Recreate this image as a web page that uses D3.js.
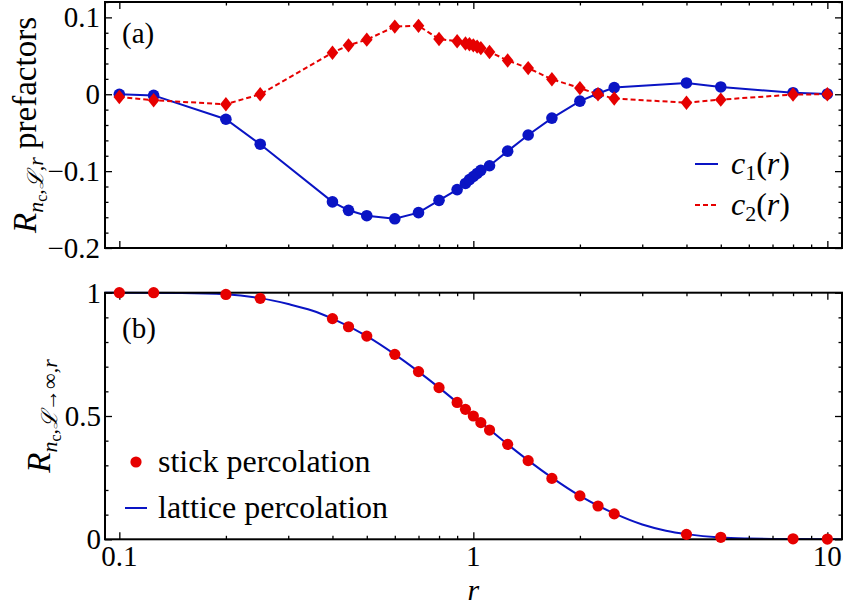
<!DOCTYPE html>
<html><head><meta charset="utf-8">
<script src="https://cdn.jsdelivr.net/npm/d3@7"></script>
<style>
html,body{margin:0;padding:0;background:#fff;}
svg{display:block;}
</style></head>
<body>
<svg id="chart" width="845" height="608"></svg>
<script>
// ---- data ----
const rTop = [0.1,0.125,0.2,0.25,0.4,0.444,0.5,0.6,0.7,0.8,0.9,0.95,0.975,1,1.025,1.05,1.111,1.25,1.4286,1.667,2,2.25,2.5,4,5,8,10];
const c1 = [0.000,-0.0015,-0.0325,-0.065,-0.140,-0.151,-0.158,-0.162,-0.154,-0.138,-0.124,-0.116,-0.111,-0.107,-0.103,-0.099,-0.093,-0.074,-0.053,-0.031,-0.009,0.001,0.0087,0.0147,0.0095,0.002,0.0004];
const c2 = [-0.0035,-0.0078,-0.013,0.000,0.054,0.0636,0.071,0.088,0.089,0.0718,0.069,0.066,0.065,0.0636,0.062,0.060,0.055,0.044,0.034,0.0195,0.008,0.000,-0.0056,-0.011,-0.007,-0.0004,0.000];
const rBot = [0.1,0.125,0.2,0.25,0.4,0.444,0.5,0.6,0.7,0.8,0.9,0.95,1,1.05,1.111,1.25,1.4286,1.667,2,2.25,2.5,4,5,8,10];
const stick = [1,1,0.993,0.977,0.895,0.862,0.824,0.75,0.68,0.615,0.555,0.527,0.5,0.473,0.443,0.385,0.319,0.247,0.176,0.135,0.103,0.020,0.008,0.002,0.001];
const latticeR = [0.0911,0.1,0.15,0.2,0.25,0.3,0.35,0.4,0.5,0.6,0.7,0.8,0.9,1,1.111,1.25,1.4286,1.667,2,2.5,3,3.5,4,5,6,7,8,10,11];
const lattice = [1,1,0.999,0.994,0.978,0.954,0.928,0.895,0.824,0.75,0.68,0.615,0.555,0.5,0.445,0.385,0.32,0.25,0.176,0.105,0.06,0.035,0.021,0.007,0.003,0.0015,0.001,0.0005,0.0003];
const xMajor = [0.1,1,10];
const xMajorLabels = ["0.1","1","10"];
const xMinor = [0.2,0.3,0.4,0.5,0.6,0.7,0.8,0.9,2,3,4,5,6,7,8,9];
const yTopMajor = [-0.2,-0.1,0,0.1];
const yTopLabels = ["\u22120.2","\u22120.1","0","0.1"];
const yTopMinor = [-0.18,-0.16,-0.14,-0.12,-0.08,-0.06,-0.04,-0.02,0.02,0.04,0.06,0.08,0.12];
const yBotMajor = [0,0.5,1];
const yBotLabels = ["0","0.5","1"];
const yBotMinor = [0.1,0.2,0.3,0.4,0.6,0.7,0.8,0.9];

const SERIF = '"Liberation Serif", "Times New Roman"';
const BLUE = "#0a14c4", RED = "#e60000";
const svg = d3.select("#chart").style("font-family", SERIF);
const L = 105, R = 842;
const x = d3.scaleLog().domain([0.0911, 11.0]).range([L, R]);
const yT = d3.scaleLinear().domain([-0.2, 0.12]).range([248, 2]);
const yB = d3.scaleLinear().domain([0, 1]).range([539.3, 292.7]);

function txt(xx, yy, size) {
  return svg.append("text").attr("x", xx).attr("y", yy).attr("font-size", size)
    .style("font-family", SERIF).attr("fill", "#000");
}

function ticks(y, yMaj, yMin) {
  const [b, t] = y.range();
  const g = svg.append("g");
  [[d3.axisBottom(x), b], [d3.axisTop(x), t]].forEach(([a, pos]) => {
    g.append("g").attr("transform", `translate(0,${pos})`)
      .call(a.tickValues(xMajor).tickSize(-7).tickFormat(""))
      .call(gg => gg.select(".domain").remove());
    g.append("g").attr("transform", `translate(0,${pos})`)
      .call(a.tickValues(xMinor).tickSize(-3.5).tickFormat(""))
      .call(gg => gg.select(".domain").remove());
  });
  [[d3.axisLeft(y), L], [d3.axisRight(y), R]].forEach(([a, pos]) => {
    g.append("g").attr("transform", `translate(${pos},0)`)
      .call(a.tickValues(yMaj).tickSize(-7).tickFormat(""))
      .call(gg => gg.select(".domain").remove());
    g.append("g").attr("transform", `translate(${pos},0)`)
      .call(a.tickValues(yMin).tickSize(-3.5).tickFormat(""))
      .call(gg => gg.select(".domain").remove());
  });
  g.selectAll(".tick line").attr("stroke", "#000").attr("stroke-width", 1.3);
  svg.append("rect").attr("x", L).attr("y", t).attr("width", R - L).attr("height", b - t)
    .attr("fill", "none").attr("stroke", "#000").attr("stroke-width", 2);
}

function ylabel(tx, ty, infinity, suffix) {
  const t = svg.append("text").attr("transform", `translate(${tx},${ty}) rotate(-90)`)
    .attr("text-anchor", "middle").attr("font-size", 33).style("font-family", SERIF);
  t.append("tspan").attr("font-style", "italic").text("R");
  t.append("tspan").attr("font-size", 22).attr("dy", 7).attr("font-style", "italic").text("n");
  t.append("tspan").attr("font-size", 16).attr("dy", 4).text("c");
  t.append("tspan").attr("font-size", 22).attr("dy", -4).text(",");
  t.append("tspan").attr("font-size", 22).attr("font-style", "italic").text("\u2112");
  if (infinity) t.append("tspan").attr("font-size", 22).text("\u2192\u221e");
  t.append("tspan").attr("font-size", 22).text(",");
  t.append("tspan").attr("font-size", 22).attr("font-style", "italic").text("r");
  if (suffix) t.append("tspan").attr("dy", -7).text(suffix);
}

// ---- top panel ----
const topData = rTop.map((r, i) => ({r, a: c1[i], b: c2[i]}));
svg.append("path").datum(topData)
  .attr("d", d3.line().x(d => x(d.r)).y(d => yT(d.a)))
  .attr("fill", "none").attr("stroke", BLUE).attr("stroke-width", 2);
svg.append("g").selectAll("circle").data(topData).join("circle")
  .attr("cx", d => x(d.r)).attr("cy", d => yT(d.a)).attr("r", 5.8).attr("fill", BLUE);
svg.append("path").datum(topData)
  .attr("d", d3.line().x(d => x(d.r)).y(d => yT(d.b)))
  .attr("fill", "none").attr("stroke", RED).attr("stroke-width", 2).attr("stroke-dasharray", "5,3");
svg.append("g").selectAll("path").data(topData).join("path")
  .attr("d", d => { const cx = x(d.r), cy = yT(d.b), w = 5.8, h = 7.2;
    return `M${cx},${cy-h}L${cx+w},${cy}L${cx},${cy+h}L${cx-w},${cy}Z`; })
  .attr("fill", RED);
ticks(yT, yTopMajor, yTopMinor);
yTopMajor.forEach((v, i) => txt(100, yT(v), 29).attr("dy", "0.34em")
  .attr("text-anchor", "end").text(yTopLabels[i]));
txt(122, 43, 29).text("(a)");

// legend top
[[BLUE, null, "1", 164], [RED, "5,3", "2", 205]].forEach(([col, dash, sub, yy]) => {
  svg.append("line").attr("x1", 695).attr("x2", 718).attr("y1", yy).attr("y2", yy)
    .attr("stroke", col).attr("stroke-width", 2).attr("stroke-dasharray", dash);
  const t = txt(731, yy + 10, 32);
  t.append("tspan").attr("font-style", "italic").text("c");
  t.append("tspan").attr("font-size", 22).attr("dy", 6).text(sub);
  t.append("tspan").attr("dy", -6).text("(");
  t.append("tspan").attr("font-style", "italic").text("r");
  t.append("tspan").text(")");
});
ylabel(36, 125, false, " prefactors");

// ---- bottom panel ----
const latData = latticeR.map((r, i) => ({r, v: lattice[i]}));
svg.append("clipPath").attr("id", "cb").append("rect").attr("x", L).attr("y", 280).attr("width", R - L).attr("height", 260);
svg.append("path").datum(latData).attr("clip-path", "url(#cb)")
  .attr("d", d3.line().curve(d3.curveMonotoneX).x(d => x(d.r)).y(d => yB(d.v)))
  .attr("fill", "none").attr("stroke", BLUE).attr("stroke-width", 2);
ticks(yB, yBotMajor, yBotMinor);
svg.append("g").selectAll("circle").data(rBot.map((r, i) => ({r, v: stick[i]}))).join("circle")
  .attr("cx", d => x(d.r)).attr("cy", d => yB(d.v)).attr("r", 5.6).attr("fill", RED);
yBotMajor.forEach((v, i) => txt(101, yB(v), 29).attr("dy", "0.34em")
  .attr("text-anchor", "end").text(yBotLabels[i]));
xMajor.forEach((v, i) => txt(x(v), 566, 29).attr("text-anchor", "middle").text(xMajorLabels[i]));
txt(x(1), 599.5, 30).attr("text-anchor", "middle").attr("font-style", "italic").text("r");
txt(122, 338, 29).text("(b)");

// legend bottom
svg.append("circle").attr("cx", 136).attr("cy", 462).attr("r", 5.6).attr("fill", RED);
txt(158, 472, 32).text("stick percolation");
svg.append("line").attr("x1", 125).attr("x2", 147).attr("y1", 508).attr("y2", 508)
  .attr("stroke", BLUE).attr("stroke-width", 2);
txt(158, 518, 32).text("lattice percolation");
ylabel(50, 416, true, null);
</script>
</body></html>
